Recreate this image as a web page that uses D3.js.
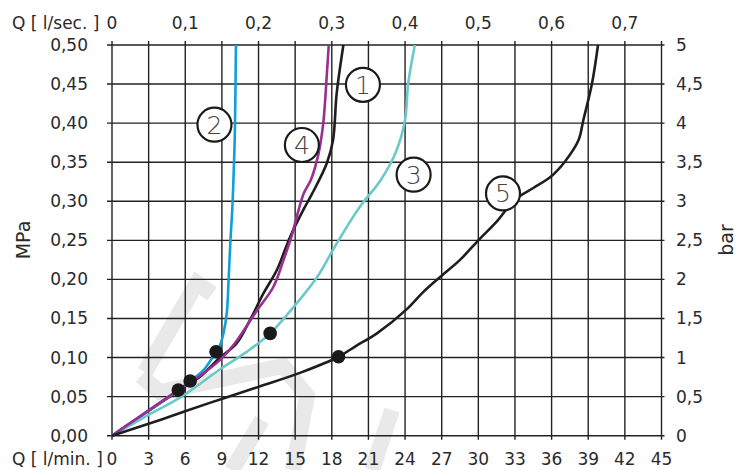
<!DOCTYPE html>
<html>
<head>
<meta charset="utf-8">
<script src="https://cdn.jsdelivr.net/npm/d3@7"></script>
<style>
  body { margin: 0; background: #fff; }
  text { font-family: "DejaVu Sans", sans-serif; fill: #2a2a2a; }
</style>
</head>
<body>
<div id="target_div"></div>
<script>
var W = 737, H = 470;
var margin = {top: 45, left: 112, right: 76, bottom: 34};
var canvas = { w: 661.5 - margin.left, h: 435.7 - margin.top };

// axis ticks
var lminTicks = [0, 3, 6, 9, 12, 15, 18, 21, 24, 27, 30, 33, 36, 39, 42, 45];
var lsecTicks = [0, 0.1, 0.2, 0.3, 0.4, 0.5, 0.6, 0.7];
var mpaTicks = [0, 0.05, 0.10, 0.15, 0.20, 0.25, 0.30, 0.35, 0.40, 0.45, 0.50];
var barTicks = [0, 0.5, 1, 1.5, 2, 2.5, 3, 3.5, 4, 4.5, 5];

// curves: [l/min, MPa]
var curve1 = [[0,0],[5.4,0.057],[7.2,0.0755],[8.85,0.1],[10.2,0.118],[11.3,0.148],[12.4,0.182],
  [13.5,0.212],[14.6,0.255],[15.7,0.29],[16.4,0.31],[17.6,0.349],[18.1,0.378],[18.4,0.438],[18.95,0.50]];
var curve2 = [[0,0],[5.4,0.058],[6.4,0.07],[7.5,0.084],[8.1,0.097],[8.6,0.108],[8.9,0.118],[9.13,0.131],
  [9.4,0.157],[9.55,0.2],[9.7,0.25],[9.85,0.29],[9.95,0.33],[10.05,0.38],[10.1,0.43],[10.15,0.50]];
var curve3 = [[0,0],[2.8,0.025],[5.7,0.05],[8.85,0.085],[11,0.107],[12.95,0.131],[15.1,0.169],[16.8,0.203],
  [18.4,0.246],[20.3,0.293],[22,0.327],[23.2,0.361],[24,0.404],[24.25,0.45],[24.8,0.50]];
var curve4 = [[0,0],[5.4,0.058],[6.4,0.068],[7.5,0.08],[8.85,0.097],[10,0.117],[10.8,0.135],[11.9,0.161],
  [13.2,0.19],[14.05,0.225],[14.7,0.255],[15.3,0.29],[15.7,0.31],[16.3,0.328],[16.9,0.36],[17.3,0.40],
  [17.6,0.464],[17.75,0.50]];
var curve5 = [[0,0],[4,0.0205],[8,0.042],[12,0.0625],[15.5,0.081],[18.55,0.101],[20,0.115],
  [21.7,0.131],[24.15,0.162],[25.5,0.184],[26.9,0.2035],[28.5,0.225],[30,0.25],[31.5,0.274],[33,0.302],
  [34.5,0.317],[35.9,0.331],[37.1,0.351],[38.2,0.378],[38.6,0.404],[39.3,0.45],[39.8,0.50]];
var curveColors = ['#1e1e1e', '#119fd8', '#6cc9c9', '#9a2f92', '#1e1e1e'];

var dots = [[5.43,0.0585],[6.4,0.070],[8.52,0.1075],[12.95,0.131],[18.55,0.101]];

// label circles
var labelNames = ['1', '2', '3', '4', '5'];
var labelPos = [[20.55,0.449],[8.39,0.398],[24.7,0.334],[15.55,0.372],[32.02,0.310]];

var svg = d3.select('#target_div').append('svg')
  .attr('width', W).attr('height', H);

var x = d3.scaleLinear().domain([0, 45]).range([margin.left, margin.left + canvas.w]);
var xs = d3.scaleLinear().domain([0, 0.75]).range([margin.left, margin.left + canvas.w]);
var y = d3.scaleLinear().domain([0, 0.5]).range([margin.top + canvas.h, margin.top]);
var yb = d3.scaleLinear().domain([0, 5]).range([margin.top + canvas.h, margin.top]);

// faint watermark behind the grid
var wm = svg.append('g').attr('fill', 'none').attr('stroke', '#e9e9e9')
  .attr('stroke-width', 16).attr('stroke-linejoin', 'miter');
wm.append('path').attr('d', 'M145,372 L197,283 L212,294');
wm.append('path').attr('d', 'M141,376 L160,392 L283,366 L307,396 L293,470');
wm.append('path').attr('d', 'M232,470 L262,420');
wm.append('path').attr('d', 'M372,470 L392,410');

// grid
var grid = svg.append('g').attr('stroke', '#222').attr('stroke-width', 1.4);
grid.selectAll('.vl').data(lminTicks).enter().append('line')
  .attr('x1', d => x(d)).attr('x2', d => x(d))
  .attr('y1', y(0.5) - 4).attr('y2', y(0) + 4);
grid.selectAll('.hl').data(mpaTicks).enter().append('line')
  .attr('y1', d => y(d)).attr('y2', d => y(d))
  .attr('x1', x(0) - 5).attr('x2', x(45) + 3);

// curves
var lineGen = d3.line()
  .x(d => x(d[0]))
  .y(d => y(d[1]))
  .curve(d3.curveCatmullRom.alpha(0.5));

[curve1, curve2, curve3, curve4, curve5].forEach(function (c, i) {
  svg.append('path')
    .attr('d', lineGen(c))
    .attr('fill', 'none')
    .attr('stroke', curveColors[i])
    .attr('stroke-width', 2.6);
});

svg.selectAll('circle.dot').data(dots).enter().append('circle')
  .attr('class', 'dot')
  .attr('r', 6.8)
  .attr('cx', d => x(d[0]))
  .attr('cy', d => y(d[1]))
  .attr('fill', '#1a1a1a');

// numbered labels
var lab = svg.selectAll('g.lab').data(labelPos).enter().append('g')
  .attr('transform', d => `translate(${x(d[0])}, ${y(d[1])})`);
lab.append('circle').attr('r', 17).attr('fill', '#fff')
  .attr('stroke', '#1a1a1a').attr('stroke-width', 2.2);
lab.append('text')
  .text((d, i) => labelNames[i])
  .attr('text-anchor', 'middle')
  .attr('y', 9)
  .style('font-size', '25px')
  .style('font-weight', 200)
  .style('fill', '#444');

// tick labels
var fs = '17px';
svg.selectAll('.tb').data(lminTicks).enter().append('text')
  .text(d => d)
  .attr('x', d => x(d)).attr('y', 465)
  .attr('text-anchor', 'middle').style('font-size', fs);
svg.selectAll('.tt').data(lsecTicks).enter().append('text')
  .text(d => d3.format('.1f')(d).replace('.', ',').replace(/^0,0$/, '0'))
  .attr('x', d => xs(d)).attr('y', 29)
  .attr('text-anchor', 'middle').style('font-size', fs);
svg.selectAll('.tl').data(mpaTicks).enter().append('text')
  .text(d => d3.format('.2f')(d).replace('.', ','))
  .attr('x', 88).attr('y', d => y(d) + 6)
  .attr('text-anchor', 'end').style('font-size', fs);
svg.selectAll('.tr').data(barTicks).enter().append('text')
  .text(d => String(d).replace('.', ','))
  .attr('x', 676).attr('y', d => yb(d) + 6)
  .attr('text-anchor', 'start').style('font-size', fs);

// axis titles
svg.append('text').text('Q [ l/sec. ]')
  .attr('x', 12).attr('y', 29).style('font-size', fs);
svg.append('text').text('Q [ l/min. ]')
  .attr('x', 12).attr('y', 465).style('font-size', fs);
svg.append('text').text('MPa')
  .attr('text-anchor', 'middle')
  .attr('transform', 'translate(30, 240) rotate(-90)')
  .style('font-size', '19px');
svg.append('text').text('bar')
  .attr('text-anchor', 'middle')
  .attr('transform', 'translate(733, 240) rotate(-90)')
  .style('font-size', '19px');
</script>
</body>
</html>
